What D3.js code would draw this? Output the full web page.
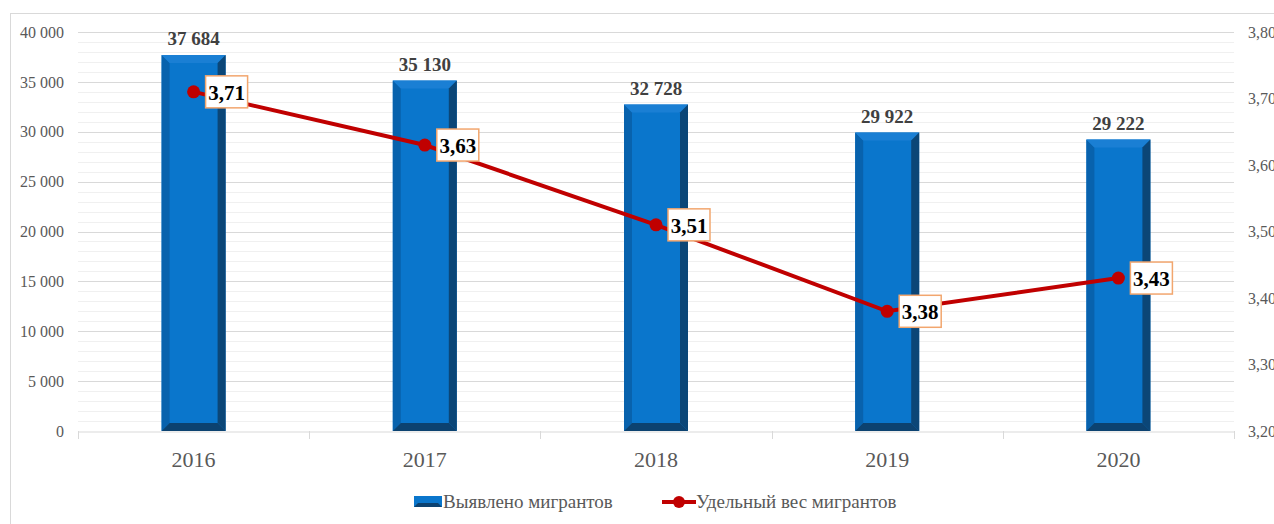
<!DOCTYPE html>
<html>
<head>
<meta charset="utf-8">
<script src="https://cdn.jsdelivr.net/npm/d3@7"></script>
<style>
  body { margin: 0; background: #fff; }
</style>
</head>
<body>
<div id="chart"></div>
<script>
// Data
const years = ["2016", "2017", "2018", "2019", "2020"];
const migrants = [37684, 35130, 32728, 29922, 29222];
const shares = [3.71, 3.63, 3.51, 3.38, 3.43];
const leftTicks = [0, 5000, 10000, 15000, 20000, 25000, 30000, 35000, 40000];
const rightTicks = [3.2, 3.3, 3.4, 3.5, 3.6, 3.7, 3.8];

const W = 1274, H = 524;
const plot = { left: 78, right: 1234, top: 32, bottom: 431 };
const FONT = "'Liberation Serif', 'Times New Roman', serif";

const fmtInt = v => d3.format(",")(v).replace(/,/g, " ");
const fmtDec = v => d3.format(".2f")(v).replace(".", ",");

const svg = d3.select("#chart").append("svg")
    .attr("width", W)
    .attr("height", H)
    .style("font-family", FONT);

// outer frame
svg.append("rect")
    .attr("x", 10.5).attr("y", 13.5)
    .attr("width", W).attr("height", H)
    .attr("fill", "none")
    .attr("stroke", "#d9d9d9");

const x = d3.scaleBand()
    .domain(years)
    .range([plot.left, plot.right]);

const yL = d3.scaleLinear()
    .domain([0, 40000])
    .range([plot.bottom, plot.top]);

const yR = d3.scaleLinear()
    .domain([3.2, 3.8])
    .range([plot.bottom, plot.top]);

// minor gridlines every 1000
svg.append("g")
    .selectAll("line")
    .data(d3.range(1000, 40001, 1000).filter(v => v % 5000 !== 0))
    .join("line")
    .attr("x1", plot.left).attr("x2", plot.right)
    .attr("y1", d => Math.round(yL(d)) + 0.5)
    .attr("y2", d => Math.round(yL(d)) + 0.5)
    .attr("stroke", "#f0f0f0");

// major gridlines
svg.append("g")
    .selectAll("line")
    .data(leftTicks.filter(v => v > 0))
    .join("line")
    .attr("x1", plot.left).attr("x2", plot.right)
    .attr("y1", d => Math.round(yL(d)) + 0.5)
    .attr("y2", d => Math.round(yL(d)) + 0.5)
    .attr("stroke", "#d9d9d9");

// x axis
const xAxis = svg.append("g")
    .attr("transform", `translate(0,${plot.bottom + 0.5})`)
    .call(d3.axisBottom(x).tickSize(0).tickPadding(20));
xAxis.attr("font-family", null);
xAxis.select(".domain").attr("stroke", "#d9d9d9");
xAxis.selectAll("text")
    .attr("fill", "#595959")
    .style("font-size", "22px")
    .style("font-family", FONT);

// category separators below the axis
svg.append("g")
    .selectAll("line")
    .data(d3.range(years.length + 1))
    .join("line")
    .attr("x1", i => Math.round(plot.left + i * x.step()) + 0.5)
    .attr("x2", i => Math.round(plot.left + i * x.step()) + 0.5)
    .attr("y1", plot.bottom)
    .attr("y2", plot.bottom + 8)
    .attr("stroke", "#d9d9d9");

// left axis
const leftAxis = svg.append("g")
    .attr("transform", `translate(${plot.left},0)`)
    .call(d3.axisLeft(yL).tickValues(leftTicks).tickFormat(fmtInt).tickSize(0).tickPadding(14));
leftAxis.attr("font-family", null);
leftAxis.select(".domain").remove();
leftAxis.selectAll("text")
    .attr("fill", "#595959")
    .style("font-size", "16px")
    .style("font-family", FONT);

// right axis (labels run off the right edge, as in the source)
const rightAxis = svg.append("g")
    .attr("transform", `translate(${plot.right},0)`)
    .call(d3.axisRight(yR).tickValues(rightTicks).tickFormat(fmtDec).tickSize(0).tickPadding(14));
rightAxis.attr("font-family", null);
rightAxis.select(".domain").remove();
rightAxis.selectAll("text")
    .attr("fill", "#595959")
    .style("font-size", "16px")
    .style("font-family", FONT);

// bars with bevel look
const barW = 64, bev = 8;
const bars = svg.append("g")
    .selectAll("g")
    .data(years.map((y, i) => ({ year: y, value: migrants[i] })))
    .join("g");

bars.each(function(d) {
    const g = d3.select(this);
    const x0 = x(d.year) + x.bandwidth() / 2 - barW / 2;
    const x1 = x0 + barW;
    const y0 = yL(d.value);
    const y1 = yL(0);
    // main face
    g.append("rect")
        .attr("x", x0).attr("y", y0)
        .attr("width", barW).attr("height", y1 - y0)
        .attr("fill", "#0a76cc");
    // left bevel
    g.append("polygon")
        .attr("points", `${x0},${y0} ${x0 + bev},${y0 + bev} ${x0 + bev},${y1 - bev} ${x0},${y1}`)
        .attr("fill", "#0862ad");
    // top bevel
    g.append("polygon")
        .attr("points", `${x0},${y0} ${x1},${y0} ${x1 - bev},${y0 + bev} ${x0 + bev},${y0 + bev}`)
        .attr("fill", "#1a7fd4");
    // right bevel
    g.append("polygon")
        .attr("points", `${x1},${y0} ${x1},${y1} ${x1 - bev},${y1 - bev} ${x1 - bev},${y0 + bev}`)
        .attr("fill", "#0b4677");
    // bottom bevel
    g.append("polygon")
        .attr("points", `${x0},${y1} ${x1},${y1} ${x1 - bev},${y1 - bev} ${x0 + bev},${y1 - bev}`)
        .attr("fill", "#0c4270");
    // value label
    g.append("text")
        .attr("x", x0 + barW / 2)
        .attr("y", y0 - 10)
        .attr("text-anchor", "middle")
        .attr("fill", "#404040")
        .style("font-size", "19px")
        .style("font-weight", "bold")
        .text(fmtInt(d.value));
});

// line series
const pts = years.map((y, i) => ({ year: y, value: shares[i] }));
const line = d3.line()
    .x(d => x(d.year) + x.bandwidth() / 2)
    .y(d => yR(d.value));

svg.append("path")
    .datum(pts)
    .attr("d", line)
    .attr("fill", "none")
    .attr("stroke", "#c00000")
    .attr("stroke-width", 4);

svg.append("g")
    .selectAll("circle")
    .data(pts)
    .join("circle")
    .attr("cx", d => x(d.year) + x.bandwidth() / 2)
    .attr("cy", d => yR(d.value))
    .attr("r", 6.5)
    .attr("fill", "#c00000");

// boxed labels for the line
const lbl = svg.append("g")
    .selectAll("g")
    .data(pts)
    .join("g")
    .attr("transform", d => `translate(${x(d.year) + x.bandwidth() / 2 + 12},${yR(d.value)})`);

lbl.append("rect")
    .attr("x", 0).attr("y", -16)
    .attr("width", 42).attr("height", 32)
    .attr("fill", "#fff")
    .attr("stroke", "#f2a66e")
    .attr("stroke-width", 1.5);

lbl.append("text")
    .attr("x", 21).attr("y", 8)
    .attr("text-anchor", "middle")
    .attr("fill", "#000")
    .style("font-size", "21px")
    .style("font-weight", "bold")
    .text(d => fmtDec(d.value));

// legend
const legend = svg.append("g").attr("transform", "translate(414,502)");
legend.append("rect")
    .attr("x", 0).attr("y", -6).attr("width", 28).attr("height", 11)
    .attr("fill", "#0a76cc");
legend.append("polygon")
    .attr("points", "0,5 28,5 24,1 4,1")
    .attr("fill", "#0c4270");
legend.append("text")
    .attr("x", 29).attr("y", 6)
    .attr("fill", "#595959")
    .style("font-size", "19px")
    .text("Выявлено мигрантов");

legend.append("line")
    .attr("x1", 248).attr("x2", 282)
    .attr("y1", 0).attr("y2", 0)
    .attr("stroke", "#c00000")
    .attr("stroke-width", 4);
legend.append("circle")
    .attr("cx", 265).attr("cy", 0).attr("r", 6)
    .attr("fill", "#c00000");
legend.append("text")
    .attr("x", 282).attr("y", 6)
    .attr("fill", "#595959")
    .style("font-size", "19px")
    .text("Удельный вес мигрантов");
</script>
</body>
</html>
